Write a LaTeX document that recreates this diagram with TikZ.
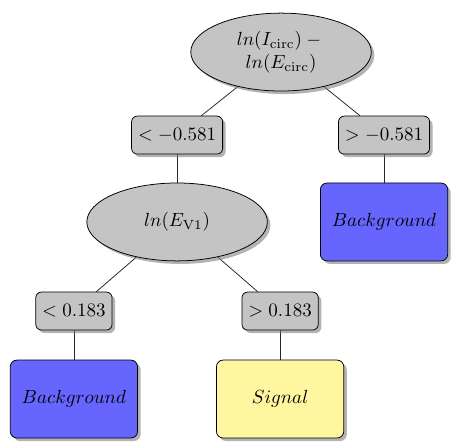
\documentclass[tikz,border=0pt]{standalone}
\usetikzlibrary{shapes.geometric,shadows,backgrounds}
\definecolor{nodegray}{RGB}{196,196,196}
\definecolor{bgblue}{RGB}{102,102,255}
\definecolor{sigyellow}{RGB}{255,246,160}
\begin{document}
\begin{tikzpicture}[x=1pt,y=1pt,
  decision/.style={ellipse,draw,fill=nodegray,minimum width=95pt,minimum height=41pt,inner sep=1pt,align=center,drop shadow={shadow xshift=1.6pt,shadow yshift=-1.6pt,opacity=0.6}},
  cutbox/.style={rectangle,rounded corners=3pt,draw,fill=nodegray,minimum height=20pt,inner sep=3.4pt,drop shadow={shadow xshift=1.6pt,shadow yshift=-1.6pt,opacity=0.6}},
  leafbox/.style={rectangle,rounded corners=3.5pt,draw,minimum width=67pt,minimum height=41pt,drop shadow={shadow xshift=1.6pt,shadow yshift=-1.6pt,opacity=0.6}},
  edge/.style={draw=black!85,line width=0.4pt}]
\useasboundingbox (0,0) rectangle (240.5,-234.7);
\node[decision] (root) at (147.9,-27.4) {$ln(I_{\mathrm{circ}})-{}$\\$ln(E_{\mathrm{circ}})$};
\node[cutbox] (l1) at (93.2,-71.1) {$<-0.581$};
\node[cutbox] (r1) at (202.1,-71.1) {$>-0.581$};
\node[decision] (e2) at (93.2,-116.8) {$ln(E_{\mathrm{V1}})$};
\node[leafbox,fill=bgblue] (bgr) at (202.1,-116.8) {$Background$};
\node[cutbox] (l2) at (38.9,-163.7) {$<0.183$};
\node[cutbox] (r2) at (147.4,-163.7) {$>0.183$};
\node[leafbox,fill=bgblue] (bgl) at (38.9,-210) {$Background$};
\node[leafbox,fill=sigyellow] (sig) at (147.4,-210) {$Signal$};
\begin{pgfonlayer}{background}
\draw[edge] (root) -- (l1);
\draw[edge] (root) -- (r1);
\draw[edge] (l1) -- (e2);
\draw[edge] (r1) -- (bgr);
\draw[edge] (e2) -- (l2);
\draw[edge] (e2) -- (r2);
\draw[edge] (l2) -- (bgl);
\draw[edge] (r2) -- (sig);
\end{pgfonlayer}
\end{tikzpicture}
\end{document}
